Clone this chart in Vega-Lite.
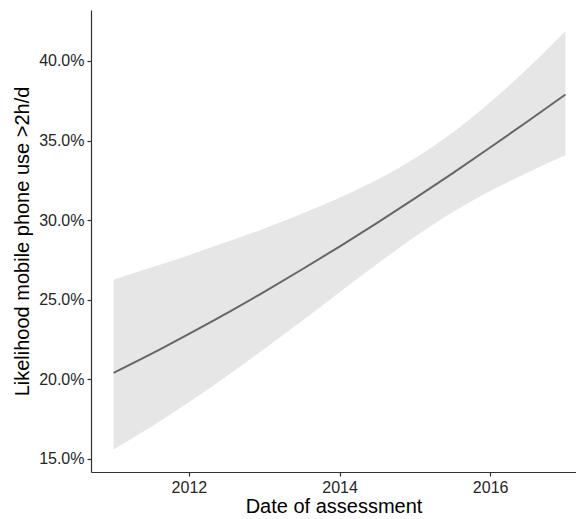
{
  "$schema": "https://vega.github.io/schema/vega-lite/v6.json",
  "autosize": {"type": "none"},
  "padding": {"left": 91, "top": 10, "right": 0, "bottom": 47},
  "width": 485,
  "height": 462,
  "background": "white",
  "config": {
    "view": {"stroke": null},
    "font": "Liberation Sans",
    "axis": {
      "grid": false,
      "domainColor": "#333333",
      "domainWidth": 1.2,
      "tickColor": "#333333",
      "tickWidth": 1.2,
      "tickSize": 4,
      "labelColor": "#262626",
      "labelFont": "Liberation Sans",
      "labelFontSize": 16,
      "titleFont": "Liberation Sans",
      "titleFontSize": 20,
      "titleFontWeight": "normal",
      "titleColor": "#000000"
    }
  },
  "data": {
    "values": [
      {"year": 2011.0, "fit": 0.2041, "lo": 0.1559, "hi": 0.2626},
      {"year": 2011.5, "fit": 0.2160, "lo": 0.1702, "hi": 0.2702},
      {"year": 2012.0, "fit": 0.2286, "lo": 0.1856, "hi": 0.2780},
      {"year": 2012.5, "fit": 0.2415, "lo": 0.2019, "hi": 0.2862},
      {"year": 2013.0, "fit": 0.2550, "lo": 0.2190, "hi": 0.2948},
      {"year": 2013.5, "fit": 0.2690, "lo": 0.2366, "hi": 0.3040},
      {"year": 2014.0, "fit": 0.2834, "lo": 0.2547, "hi": 0.3141},
      {"year": 2014.5, "fit": 0.2983, "lo": 0.2725, "hi": 0.3254},
      {"year": 2015.0, "fit": 0.3137, "lo": 0.2895, "hi": 0.3389},
      {"year": 2015.5, "fit": 0.3294, "lo": 0.3049, "hi": 0.3549},
      {"year": 2016.0, "fit": 0.3456, "lo": 0.3183, "hi": 0.3740},
      {"year": 2016.5, "fit": 0.3621, "lo": 0.3300, "hi": 0.3954},
      {"year": 2017.0, "fit": 0.3789, "lo": 0.3407, "hi": 0.4188}
    ]
  },
  "encoding": {
    "x": {
      "field": "year",
      "type": "quantitative",
      "scale": {"domain": [2010.7, 2017.14], "nice": false, "zero": false},
      "axis": {"values": [2012, 2014, 2016], "format": "d", "title": "Date of assessment", "labelPadding": 3, "titlePadding": 1}
    }
  },
  "layer": [
    {
      "mark": {"type": "area", "color": "#E6E6E6", "opacity": 1, "interpolate": "monotone"},
      "encoding": {
        "y": {
          "field": "lo",
          "type": "quantitative",
          "scale": {"domain": [0.1418, 0.432], "nice": false, "zero": false},
          "axis": {"values": [0.15, 0.2, 0.25, 0.3, 0.35, 0.4], "format": ".1%", "title": "Likelihood mobile phone use >2h/d", "labelPadding": 3, "titlePadding": 6}
        },
        "y2": {"field": "hi"}
      }
    },
    {
      "mark": {"type": "line", "color": "#666666", "strokeWidth": 2, "interpolate": "monotone"},
      "encoding": {
        "y": {"field": "fit", "type": "quantitative"}
      }
    }
  ]
}
